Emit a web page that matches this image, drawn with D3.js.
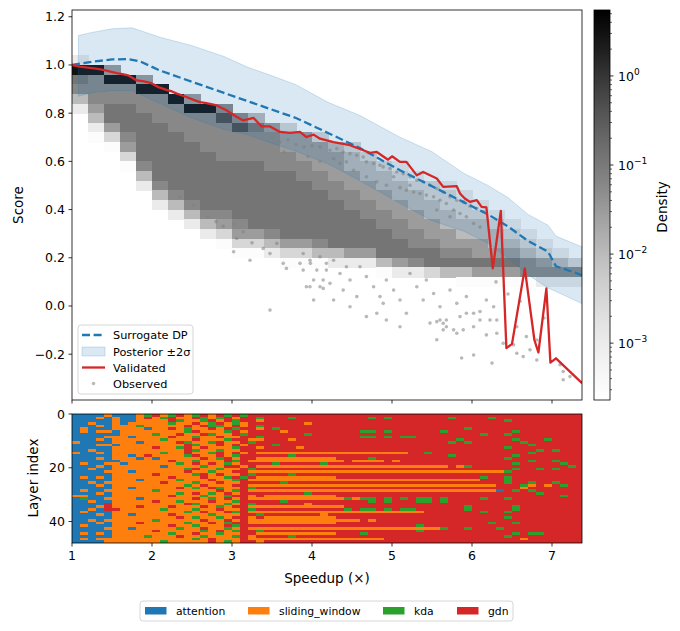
<!DOCTYPE html>
<html>
<head>
<meta charset="utf-8">
<script src="https://cdn.jsdelivr.net/npm/d3@7"></script>
<style>
  body { margin: 0; background: #fff; }
  svg { font-family: "DejaVu Sans", sans-serif; }
</style>
</head>
<body>
<svg id="chart" width="680" height="631"></svg>
<script>
// ---- ticks ----
const speedTicks = [1, 2, 3, 4, 5, 6, 7];
const scoreTicks = [-0.2, 0, 0.2, 0.4, 0.6, 0.8, 1.0, 1.2];
const layerTicks = [0, 20, 40];
const densityTicks = [1e-3, 1e-2, 1e-1, 1];
const densityTickExp = ["\u22123", "\u22122", "\u22121", "0"];

// ---- surrogate DP (dashed) ----
const surrogateX = [1.0, 1.25, 1.5, 1.7, 1.85, 2.1, 2.5, 2.9, 3.35, 3.8, 4.2, 4.6, 5.1, 5.5, 5.9, 6.2, 6.45, 6.7, 6.95, 7.05, 7.375];
const surrogateY = [1.0, 1.013, 1.023, 1.024, 1.015, 0.977, 0.93, 0.884, 0.832, 0.78, 0.718, 0.655, 0.563, 0.497, 0.43, 0.38, 0.33, 0.27, 0.225, 0.165, 0.128];

// ---- posterior band ----
const bandX = [1.08, 1.25, 1.5, 1.75, 2.1, 2.5, 2.9, 3.2, 3.5, 3.8, 4.2, 4.6, 5.1, 5.5, 5.9, 6.2, 6.45, 6.7, 6.95, 7.05, 7.375];
const bandUpper = [1.122, 1.135, 1.15, 1.154, 1.115, 1.08, 1.035, 0.99, 0.955, 0.918, 0.845, 0.79, 0.70, 0.64, 0.55, 0.50, 0.45, 0.38, 0.335, 0.29, 0.245];
const bandLower = [0.87, 0.885, 0.893, 0.894, 0.84, 0.78, 0.733, 0.71, 0.675, 0.642, 0.59, 0.52, 0.426, 0.354, 0.31, 0.26, 0.2, 0.13, 0.075, 0.06, 0.01];

// ---- validated (red) ----
const validatedX = [1.0, 1.1, 1.22, 1.3, 1.39, 1.48, 1.56, 1.63, 1.7, 1.81, 1.9, 1.98, 2.08, 2.18, 2.25, 2.31, 2.43, 2.52, 2.6, 2.68, 2.81, 2.93, 3.03, 3.14, 3.27, 3.37, 3.475, 3.6, 3.725, 3.85, 3.93, 4.02, 4.1, 4.27, 4.475, 4.64, 4.725, 4.81, 4.95, 5.0, 5.1, 5.18, 5.31, 5.39, 5.56, 5.64, 5.81, 5.85, 5.91, 5.975, 6.06, 6.12, 6.18, 6.26, 6.36, 6.43, 6.5, 6.66, 6.78, 6.83, 6.93, 6.98, 7.05, 7.375];
const validatedY = [1.0, 0.993, 0.988, 0.985, 0.98, 0.972, 0.966, 0.962, 0.957, 0.936, 0.932, 0.926, 0.908, 0.897, 0.89, 0.881, 0.867, 0.855, 0.846, 0.842, 0.832, 0.812, 0.79, 0.77, 0.78, 0.745, 0.745, 0.722, 0.718, 0.722, 0.701, 0.711, 0.694, 0.68, 0.667, 0.646, 0.635, 0.639, 0.607, 0.621, 0.598, 0.598, 0.542, 0.556, 0.529, 0.494, 0.497, 0.467, 0.446, 0.432, 0.439, 0.411, 0.409, 0.156, 0.395, -0.175, -0.157, 0.156, -0.141, -0.193, 0.073, -0.235, -0.217, -0.32];

// ---- observed points (visible ones) ----
const observedPts = [
  [3.5,0.70],[3.6,0.68],[3.7,0.69],[3.8,0.67],[3.9,0.66],[4.0,0.665],[3.65,0.64],[3.95,0.62],[4.1,0.60],
  [4.1,0.66],[4.225,0.646],[4.31,0.653],[4.39,0.639],[4.475,0.632],[4.56,0.625],[4.64,0.618],[4.68,0.598],[4.77,0.591],[4.85,0.584],[4.89,0.577],[4.975,0.57],[5.06,0.556],[5.14,0.549],[5.225,0.536],[5.31,0.522],[5.39,0.515],[5.475,0.501],[5.56,0.487],[5.64,0.473],[5.725,0.453],[5.81,0.439],[5.89,0.432],[5.975,0.414],[6.06,0.404],[6.14,0.391],
  [4.81,0.515],[4.93,0.501],[5.1,0.491],[5.18,0.48],[5.27,0.473],[5.35,0.467],[5.43,0.46],[5.52,0.453],[5.6,0.439],[5.68,0.425],[5.77,0.398],[5.85,0.384],[5.93,0.37],
  [4.68,0.536],[4.52,0.563],[4.35,0.591],[5.02,0.536],[5.225,0.501],[5.56,0.398],[5.725,0.37],[6.02,0.342],[6.1,0.328],[4.27,0.611],[4.43,0.598],
  [2.35,0.45],[2.52,0.42],[2.7,0.37],[2.8,0.35],
  [2.89,0.331],[3.02,0.342],[3.06,0.28],[3.14,0.308],[3.25,0.262],[3.02,0.225],[3.225,0.19],[3.39,0.239],[3.475,0.218],[3.56,0.26],[3.64,0.177],[3.68,0.156],[3.85,0.177],[3.89,0.149],[3.975,0.19],[4.06,0.149],[4.02,0.108],[4.14,0.108],[3.975,0.08],[3.475,-0.017],[4.14,0.073],[4.18,0.177],
  [3.89,0.218],[3.98,0.177],[4.1,0.204],[4.18,0.149],[4.27,0.19],[4.35,0.135],[4.43,0.163],[4.475,0.108],[4.6,0.163],[4.68,0.122],[4.77,0.08],[4.85,0.039],[4.89,0.011],[4.93,0.108],[5.02,0.066],[5.1,0.025],[5.18,-0.03],[5.225,0.135],[5.31,0.08],[5.39,0.025],[5.43,0.108],[5.52,0.052],[5.6,-0.003],[5.68,-0.058],[5.725,0.066],[5.81,0.011],[5.85,-0.044],[5.93,0.039],[6.02,-0.03],[6.1,-0.058],[6.18,0.025],[6.27,-0.003],
  [3.93,0.08],[4.1,0.08],[4.27,0.025],[4.475,-0.003],[4.68,-0.044],[4.81,-0.03],[4.93,-0.058],[5.1,-0.086],[5.56,-0.065],[5.64,-0.072],[5.77,-0.099],[4.225,0.094],[4.39,0.066],[4.56,0.039],[4.02,0.025],
  [5.89,-0.099],[6.02,-0.086],[6.18,-0.12],[6.225,-0.058],[6.31,-0.113],[6.39,-0.155],[6.52,-0.161],[6.56,-0.196],[6.64,-0.21],[6.725,-0.182],[6.81,-0.224],[5.87,-0.216],[6.02,-0.203],[6.25,-0.237],[7.14,-0.272],[7.14,-0.306],[7.225,-0.293],[7.1,-0.244],[6.31,-0.058],[6.56,-0.086],[6.68,-0.127],[6.81,-0.141],[5.81,-0.113],[5.68,-0.086],[5.6,-0.058],[5.475,-0.071],[5.56,-0.14],[5.64,-0.099],[5.93,-0.03],[6.1,-0.023],
  [6.3,0.1],[6.45,0.05],[6.6,0.02],[6.9,-0.05]
];

// ---- density image: columns of 0.2 in speedup, rows of 0.04 in score from 1.04 down ----
const densityColX = [1.0,1.2,1.4,1.6,1.8,2.0,2.2,2.4,2.6,2.8,3.0,3.2,3.4,3.6,3.8,4.0,4.2,4.4,4.6,4.8,5.0,5.2,5.4,5.6,5.8,6.0,6.2,6.4,6.6,6.8,7.0,7.2];
const densityColW = 0.2;
const densityTop = 1.04;
const densityRowH = 0.04;
const densityStart = [0,1,1,2,2,3,4,4,5,5,6,6,7,7,8,8,9,9,10,11,11,12,12,13,14,15,16,17,18,19,20,21];
const densityLevels = [
  "297642", "96665421", "596677531", "9667776531", "596677777642", "9666777777642",
  "9666777777642", "59666777777642", "96666777777642", "686666777776531", "686667777776531",
  "476667777777531", "56666777777642", "355667777777531", "55566777777531", "35556677777641",
  "4555667777742", "3445566777752", "344556677752", "344556677741", "234455667752",
  "23445566762", "13344556773", "2334455674", "2334456741", "234455751", "23445751",
  "2345751", "234661", "23562", "2462", "362"
];
// level code -> density value
const levelValue = [0, 3e-4, 1e-3, 3e-3, 1e-2, 3e-2, 0.06, 0.12, 0.5, 3];

// ---- layer map: 48 layers x 64 columns of 0.1 speedup (a=attention s=sliding_window k=kda g=gdn) ----
const layerCategories = ["attention", "sliding_window", "kda", "gdn"];
const layerCodes = { a: "attention", s: "sliding_window", k: "kda", g: "gdn" };
const categoryColors = ["#1f77b4", "#ff7f0e", "#2ca02c", "#d62728"];
const layerColStart = 1.0;
const layerColW = 0.1;
const layerRows = [
  "aaa asa aask gskgs kgsgk gkgg ggggggggg | ggggg ggggg ggggg ggggg ggggg ggggg g",
  "aaa sas aasg skgss gkskg sggk gggkggggg | ggggk gkggg ggggk ggggk ggggg ggggg g",
  "aaa aas aass ssgks skgsg kggs ggggggggg | ggggg ggggg ggggg ggggg gkggg ggggg g",
  "aas aas asss sskss gskgs ksgg gggggsggg | ggggg ggggg ggggg ggggg ggggg ggggg g",
  "aaa sas ssks ssssg sgkks gsgk ggggggggg | ggggg ggggg ggggg ggggg ggggg ggggg g",
  "asa aas sssa ssgsk ssgsg kggs gkggggggg | ggggg ggggg ggggg gkggg ggggg ggggg g",
  "asa ssa ssss ssssk gsssk gsgg ggsgggggg | gggkk gkggg gggkg ggggg ggkgg ggggg g",
  "aaa aaa ssss kssgs sgkss gkgg gggggkggg | ggggg ggggg ggggg gggkg gkggg ggggg g",
  "aaa ass sass ssgss kssgs sggk ggggggggg | gggkk gkgkk ggggg ggggg ggggg ggggg g",
  "aaa sas ssss sksss gsssk ggss gggsggggg | ggggg ggggg ggggg kgggg ggkgg gkggg g",
  "saa aas ssas sssgk sskgs sgkg ggggggggg | ggggg ggggg ggggk gkggg gggkg ggggg g",
  "aaa ssa ssss ssssg kssgs gsgg gkggggggg | ggggg ggggg ggggg ggggg ggggk ggggg g",
  "aaa aas ssss gsskg sgsss kggs ggggsgggg | ggggg ggggg ggggg ggggg gkggg ggggg g",
  "aas aas ssss ssssg kssks sggg ggggggggg | ggggg ggggg ggggg ggggg ggggg kgkgg g",
  "saa sas ssss skssg sskgs gsgs sssssssss | sssss ssssg gkggg ggggg ggggk ggggg g",
  "aaa aas sasg ssssk gssgs kggg gggkggggg | ggggg ggggg ggggk ggggg ggkgg ggggg g",
  "aaa sas ssas assss sgskg sggs sssssssss | ggggk ggggg ggggg ggggg gkggg ggggg g",
  "aaa aaa ssss ssgss ksssg kgss sssssssss | sgsss sgsgg ggggg ggggg ggggk ggkgg g",
  "asa ass asss sssks gsgsk sggg gkgggggkg | ggggg ggggg ggggg ggggg ggkgg gggkg g",
  "aaa sas ssss sasss skssg gsgs sssssssss | sssss sssss ssssg skggg ggggg ggggk g",
  "aas aas ssss ssssk gssks sgkg ggggggggg | ggggg ggggg ggggg ggggg ggkgg kgkgg g",
  "aaa ass sass ssssg sskss ggss sssssssss | sssss sssss sssss sssss skggg ggggg g",
  "aaa aas ssss gssss kgsgs sgkg gggkggggg | ggggg ggggg ggggg ggggg ggggg ggggg g",
  "asa sas ssss ssgss sgssk gkgs sssssssss | ggggg ggggg ggggg gggkg gkggg ggggg g",
  "aaa aas ssas sssks ssgss kgss sssssssss | sssss sssss sssss sssgg gkggg ggggg g",
  "aas ass ssss sgsss kssgs sggg ggkgggggg | ggggg ggggg ggggg ggggg gkggk ggkgg g",
  "aaa sas ssss ssssk sgsss ggss sssssssss | sssss sssss sssss sssss gggks gsgkg g",
  "aaa aas sass sssgs ksgks sgkg ggggggggg | ggggg ggggg ggggg ggggg gggsg ggggg g",
  "asa ass ssss kssss sssgs kgss sssssssss | sssss sssss sssss sssss agkgk ggggg g",
  "aaa sas ssss sssks gsksg sggg gggggkggg | ggggg ggggg ggggg ggggg ggggg kgggg g",
  "ssa aas ssss ssgss skssk ggsg sssssssss | ggggg ggggg ggggg ggggg ggggg gggkg g",
  "aka ass ssas sssss gsksg sgss sssssssss | skskk gkgkg kkgkg gggkg gkggg ggggg g",
  "aas aas ssss gssks ssgss kggg ggkgggggg | ggggk gkggg kkgkg ggggg ggggg ggggg g",
  "aaa ags ssss ssssg ksssk sgkg gggggsggg | ggggg ggggg ggggg ggggg ggggg ggggg g",
  "aaa sgs ssgs ssgss sgsks ggss sssssssss | sgggg ggggg ggggg gkggg ggkgg ggggg g",
  "aas agg ssss sksss kssgs sgkg ggggggggg | gkgkk gkgkk ggggg gkggg ggkgg ggggg g",
  "asa aas ssss ssssk sgssg kgss sssssssss | sssss sssss sgggg gggkg gkggg ggggg g",
  "aaa sas sass ssgss sskss sggk gggggggsg | ggggg ggggg ggggg ggggg ggggg ggggg g",
  "aaa aas ssss sssgs kssks ggsg sssssssss | ggggg ggggg ggggg ggggg gkggg ggggg g",
  "aas ass ssss kssss sgssg sgss sssssssss | sssgs ggggg ggggg ggggg ggggg ggggg g",
  "aaa sas ssgs ssssk ssgsk ggss sssssssss | ggggg ggggg ggggg ggggk ggkgg ggggg g",
  "asa aas ssss ssgss ksssg kggg ggggggggg | ggggg ggggg kgggg ggggg ggggg ggggg g",
  "aaa ass sass sssks sgssk sgss sssssssss | sssss sssss ssskg gkggg kgggg ggggg g",
  "aaa aas ssss gssss sksgs kggk ggggggggg | ggggg ggggg kgggg ggggg ggggg ggggg g",
  "asa sas ssss sskss gssks sggs sssssssss | gggkg ggggg ggggg ggggg ggkgk kgggg g",
  "aaa aas sssk sssgs sksss kgsg gggkggggg | ggggg ggggg ggggg ggggg gkggg ggggg g",
  "asa sss ssss sssss ksgss sgss sssssssss | sssss sgggg ggggg ggggg gggsg ggggg g",
  "aaa ass ssss sksss ssgsk sggs ggggggggg | ggggg ggggg ggggg ggggg ggggg ggggg g"
];

// ---- scales ----
const svg = d3.select("#chart");
const xs = d3.scaleLinear().domain([1, 7.375]).range([72, 582]);
const ys = d3.scaleLinear().domain([-0.39, 1.228]).range([400, 10]);
const ly = d3.scaleLinear().domain([0, 48]).range([414, 543]);
const dens = d3.scaleSequentialLog(d3.interpolateGreys).domain([2.3e-4, 5.5]);
const cby = d3.scaleLog().domain([2.3e-4, 5.5]).range([400, 10]);
const catColor = d3.scaleOrdinal().domain(layerCategories).range(categoryColors);

const defs = svg.append("defs");
defs.append("clipPath").attr("id", "clipMain").append("rect")
  .attr("x", 72).attr("y", 10).attr("width", 510).attr("height", 390);
defs.append("clipPath").attr("id", "clipHeat").append("rect")
  .attr("x", 72).attr("y", 414).attr("width", 510).attr("height", 129);

// ---- density image ----
const densCells = [];
densityLevels.forEach((s, i) => {
  s.split("").forEach((ch, j) => {
    const k = +ch;
    if (k > 0) densCells.push({ x0: densityColX[i], row: densityStart[i] + j, v: levelValue[k] });
  });
});
const gMain = svg.append("g").attr("clip-path", "url(#clipMain)");
gMain.append("g").attr("shape-rendering", "crispEdges")
  .selectAll("rect").data(densCells).join("rect")
  .attr("x", d => xs(d.x0))
  .attr("width", d => xs(d.x0 + densityColW) - xs(d.x0) + 0.5)
  .attr("y", d => ys(densityTop - d.row * densityRowH))
  .attr("height", d => ys(densityTop - (d.row + 1) * densityRowH) - ys(densityTop - d.row * densityRowH) + 0.5)
  .attr("fill", d => dens(d.v));

// posterior band
const band = d3.area()
  .x((d, i) => xs(bandX[i]))
  .y0((d, i) => ys(bandLower[i]))
  .y1((d, i) => ys(bandUpper[i]));
gMain.append("path").datum(bandX).attr("d", band)
  .attr("fill", "#1f77b4").attr("fill-opacity", 0.17)
  .attr("stroke", "#1f77b4").attr("stroke-opacity", 0.2).attr("stroke-width", 1);

// observed scatter
gMain.append("g").selectAll("circle").data(observedPts).join("circle")
  .attr("cx", d => xs(d[0])).attr("cy", d => ys(d[1])).attr("r", 1.8)
  .attr("fill", "#808080").attr("fill-opacity", 0.55);

// surrogate dashed
const lineS = d3.line().x((d, i) => xs(surrogateX[i])).y((d, i) => ys(surrogateY[i]));
gMain.append("path").datum(surrogateX).attr("d", lineS)
  .attr("fill", "none").attr("stroke", "#1f77b4").attr("stroke-width", 2.3)
  .attr("stroke-dasharray", "8,3.6");

// validated red
const lineV = d3.line().x((d, i) => xs(validatedX[i])).y((d, i) => ys(validatedY[i]));
gMain.append("path").datum(validatedX).attr("d", lineV)
  .attr("fill", "none").attr("stroke", "#d62728").attr("stroke-width", 2.3)
  .attr("stroke-linejoin", "round");

// main frame + ticks
svg.append("rect").attr("x", 72).attr("y", 10).attr("width", 510).attr("height", 390)
  .attr("fill", "none").attr("stroke", "#000").attr("stroke-width", 0.8);

const tickFont = 12.5;
const gYT = svg.append("g");
scoreTicks.forEach(t => {
  gYT.append("line").attr("x1", 68.5).attr("x2", 72).attr("y1", ys(t)).attr("y2", ys(t))
    .attr("stroke", "#000").attr("stroke-width", 0.8);
  gYT.append("text").attr("x", 65).attr("y", ys(t)).attr("dy", "0.36em")
    .attr("text-anchor", "end").attr("font-size", tickFont)
    .text(t < 0 ? "\u2212" + Math.abs(t).toFixed(1) : t.toFixed(1));
});
speedTicks.forEach(t => {
  svg.append("line").attr("x1", xs(t)).attr("x2", xs(t)).attr("y1", 400).attr("y2", 403.5)
    .attr("stroke", "#000").attr("stroke-width", 0.8);
});
svg.append("text").attr("transform", "translate(23,205) rotate(-90)")
  .attr("text-anchor", "middle").attr("font-size", 13.5).text("Score");

// main legend
const lg = svg.append("g");
lg.append("rect").attr("x", 78).attr("y", 325).attr("width", 115).attr("height", 69).attr("rx", 3)
  .attr("fill", "#fff").attr("fill-opacity", 0.8).attr("stroke", "#cccccc").attr("stroke-width", 0.8);
const legRows = [335, 351.5, 367.5, 383.5];
lg.append("line").attr("x1", 82).attr("x2", 105).attr("y1", legRows[0]).attr("y2", legRows[0])
  .attr("stroke", "#1f77b4").attr("stroke-width", 2.3).attr("stroke-dasharray", "8,3.6");
lg.append("rect").attr("x", 82).attr("y", legRows[1] - 4.5).attr("width", 23).attr("height", 9)
  .attr("fill", "#1f77b4").attr("fill-opacity", 0.17).attr("stroke", "#1f77b4").attr("stroke-opacity", 0.2);
lg.append("line").attr("x1", 82).attr("x2", 105).attr("y1", legRows[2]).attr("y2", legRows[2])
  .attr("stroke", "#d62728").attr("stroke-width", 2.3);
lg.append("circle").attr("cx", 93.5).attr("cy", legRows[3]).attr("r", 1.8)
  .attr("fill", "#808080").attr("fill-opacity", 0.55);
["Surrogate DP", "Posterior \u00b12\u03c3", "Validated", "Observed"].forEach((t, i) => {
  lg.append("text").attr("x", 113).attr("y", legRows[i]).attr("dy", "0.36em")
    .attr("font-size", 11.3).text(t);
});

// ---- colorbar ----
const grad = defs.append("linearGradient").attr("id", "cbGrad")
  .attr("x1", 0).attr("y1", 1).attr("x2", 0).attr("y2", 0);
const lmin = Math.log10(2.3e-4), lmax = Math.log10(5.5);
d3.range(0, 1.0001, 0.05).forEach(t => {
  grad.append("stop").attr("offset", t).attr("stop-color", dens(Math.pow(10, lmin + t * (lmax - lmin))));
});
svg.append("rect").attr("x", 594).attr("y", 10).attr("width", 16).attr("height", 390)
  .attr("fill", "url(#cbGrad)").attr("stroke", "#000").attr("stroke-width", 0.8);
[-4, -3, -2, -1, 0].forEach(e => {
  for (let m = 2; m <= 9; m++) {
    const v = m * Math.pow(10, e);
    if (v > 2.3e-4 && v < 5.5) {
      svg.append("line").attr("x1", 610).attr("x2", 612).attr("y1", cby(v)).attr("y2", cby(v))
        .attr("stroke", "#000").attr("stroke-width", 0.6);
    }
  }
});
densityTicks.forEach((v, i) => {
  svg.append("line").attr("x1", 610).attr("x2", 613.5).attr("y1", cby(v)).attr("y2", cby(v))
    .attr("stroke", "#000").attr("stroke-width", 0.8);
  const t = svg.append("text").attr("x", 618).attr("y", cby(v) + 5).attr("font-size", tickFont);
  t.append("tspan").text("10");
  t.append("tspan").attr("dy", -6).attr("font-size", 9).text(densityTickExp[i]);
});
svg.append("text").attr("transform", "translate(667,207) rotate(-90)")
  .attr("text-anchor", "middle").attr("font-size", 13.5).text("Density");

// ---- layer heatmap ----
const heatCells = [];
layerRows.forEach((row, L) => {
  const s = row.replace(/[ |]/g, "").padEnd(64, "g").slice(0, 64);
  s.split("").forEach((ch, c) => {
    heatCells.push({ L: L, x0: layerColStart + c * layerColW, cat: layerCodes[ch] });
  });
});
svg.append("g").attr("clip-path", "url(#clipHeat)").attr("shape-rendering", "crispEdges")
  .selectAll("rect").data(heatCells).join("rect")
  .attr("x", d => xs(d.x0))
  .attr("width", d => xs(d.x0 + layerColW) - xs(d.x0) + 0.5)
  .attr("y", d => ly(d.L))
  .attr("height", d => ly(d.L + 1) - ly(d.L) + 0.5)
  .attr("fill", d => catColor(d.cat));
svg.append("rect").attr("x", 72).attr("y", 414).attr("width", 510).attr("height", 129)
  .attr("fill", "none").attr("stroke", "#000").attr("stroke-width", 0.8);
layerTicks.forEach(t => {
  svg.append("line").attr("x1", 68.5).attr("x2", 72).attr("y1", ly(t)).attr("y2", ly(t))
    .attr("stroke", "#000").attr("stroke-width", 0.8);
  svg.append("text").attr("x", 65).attr("y", ly(t)).attr("dy", "0.36em")
    .attr("text-anchor", "end").attr("font-size", tickFont).text(t);
});
speedTicks.forEach(t => {
  svg.append("line").attr("x1", xs(t)).attr("x2", xs(t)).attr("y1", 543).attr("y2", 546.5)
    .attr("stroke", "#000").attr("stroke-width", 0.8);
  svg.append("text").attr("x", xs(t)).attr("y", 560).attr("text-anchor", "middle")
    .attr("font-size", tickFont).text(t);
});
svg.append("text").attr("x", 327).attr("y", 583).attr("text-anchor", "middle")
  .attr("font-size", 13.5).text("Speedup (\u00d7)");
svg.append("text").attr("transform", "translate(38,478) rotate(-90)")
  .attr("text-anchor", "middle").attr("font-size", 13.5).text("Layer index");

// ---- bottom legend ----
const bl = svg.append("g");
bl.append("rect").attr("x", 140).attr("y", 601).attr("width", 373).attr("height", 20).attr("rx", 3)
  .attr("fill", "#fff").attr("stroke", "#cccccc").attr("stroke-width", 0.8);
const legX = [145, 248, 383, 457];
layerCategories.forEach((c, i) => {
  bl.append("rect").attr("x", legX[i]).attr("y", 607).attr("width", 21.5).attr("height", 7.5)
    .attr("fill", catColor(c));
  bl.append("text").attr("x", legX[i] + 31).attr("y", 611).attr("dy", "0.36em")
    .attr("font-size", 10.8).text(c);
});
</script>
</body>
</html>
